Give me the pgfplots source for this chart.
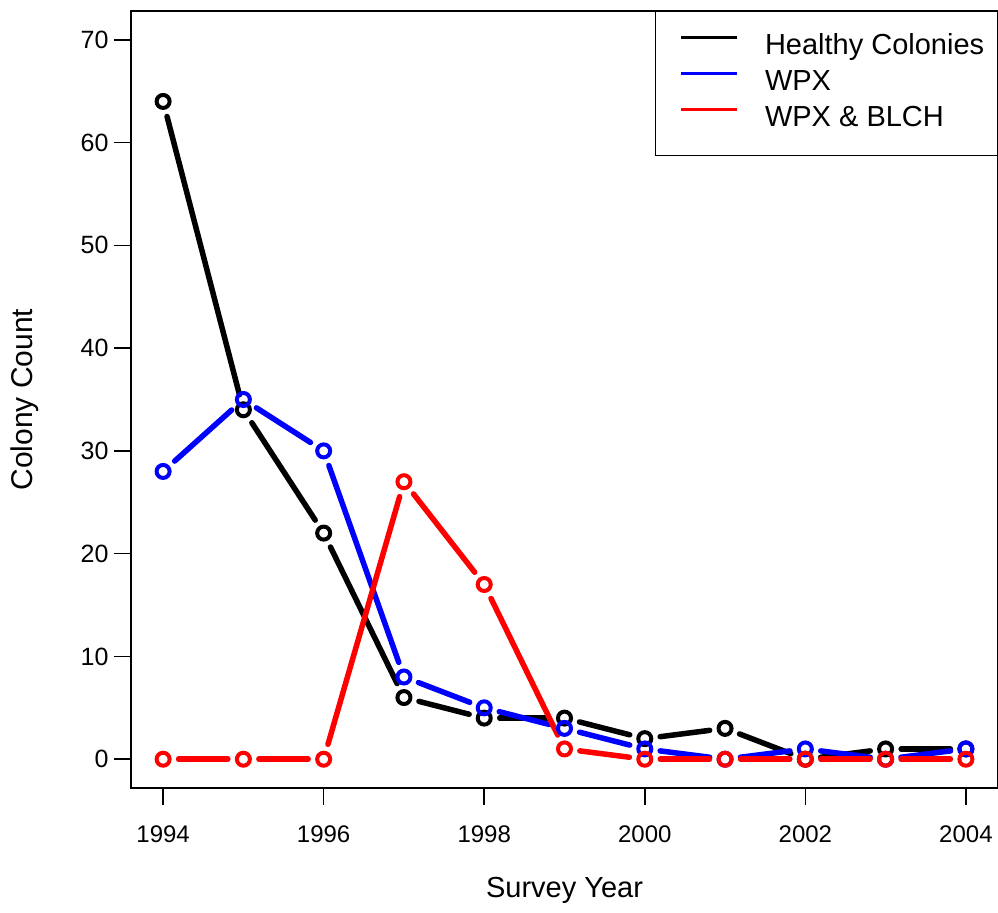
\documentclass[border=0pt]{standalone}
\usepackage{fontspec}
\setmainfont{Liberation Sans}
\usepackage{pgfplots}
\pgfplotsset{compat=1.18}
\usetikzlibrary{calc,decorations.pathmorphing}

% type "b" look: each segment stops short of the points it joins
\pgfplotsset{
  seg/.style={line width=5.5pt, line cap=round, forget plot, mark=none,
    decorate, decoration={lineto, pre=moveto, pre length=15.5pt,
      post=moveto, post length=15.5pt}},
  pts/.style={only marks, mark=o, mark size=6.5pt, mark options={line width=4pt}, forget plot},
}

\begin{document}
\begin{tikzpicture}
\begin{axis}[
  name=ax,
  scale only axis,
  width=867pt, height=777pt,
  xmin=1993.6, xmax=2004.4,
  ymin=-2.8, ymax=72.8,
  xtick={1994,1996,...,2004},
  ytick={0,10,...,70},
  xtick pos=bottom, ytick pos=left,
  tick align=outside,
  major tick length=17pt,
  tick style={line width=1.5pt, black},
  axis line style={line width=1.5pt},
  /pgf/number format/assume math mode=true,
  /pgf/number format/1000 sep={},
  xticklabel style={font=\fontsize{24}{28}\selectfont, anchor=base, yshift=-38pt},
  yticklabel style={font=\fontsize{25}{29}\selectfont, anchor=east, xshift=-2pt},
  every axis x label/.style={at={(rel axis cs:0.5,0)}, yshift=-110pt, anchor=base,
    font=\fontsize{29}{34}\selectfont},
  every axis y label/.style={at={(rel axis cs:0,0.5)}, xshift=-106pt, rotate=90,
    anchor=center, font=\fontsize{30}{35}\selectfont},
  xlabel={Survey Year},
  ylabel={Colony Count},
  legend style={at={(1,1)}, anchor=north east, draw=black, line width=1.5pt,
    inner xsep=13pt, inner ysep=21pt, row sep=6pt, column sep=0pt,
    font=\fontsize{29}{34}\selectfont,
    nodes={inner sep=0pt, text height=22pt, text depth=8pt}},
  legend cell align=left,
  legend image code/.code={\path (0pt,0pt); \draw[line width=3.5pt] (12pt,10pt) -- (68pt,10pt); \path (95pt,0pt);},
]
\addlegendimage{black}
\addlegendentry{Healthy Colonies}
\addlegendimage{blue}
\addlegendentry{WPX}
\addlegendimage{red}
\addlegendentry{WPX \& BLCH}

% Healthy colonies
\addplot[seg, black] coordinates {(1994,64) (1995,34)};
\addplot[seg, black] coordinates {(1995,34) (1996,22)};
\addplot[seg, black] coordinates {(1996,22) (1997,6)};
\addplot[seg, black] coordinates {(1997,6) (1998,4)};
\addplot[seg, black] coordinates {(1998,4) (1999,4)};
\addplot[seg, black] coordinates {(1999,4) (2000,2)};
\addplot[seg, black] coordinates {(2000,2) (2001,3)};
\addplot[seg, black] coordinates {(2001,3) (2002,0)};
\addplot[seg, black] coordinates {(2002,0) (2003,1)};
\addplot[seg, black] coordinates {(2003,1) (2004,1)};
\addplot[pts, black] coordinates {(1994,64) (1995,34) (1996,22) (1997,6) (1998,4)
  (1999,4) (2000,2) (2001,3) (2002,0) (2003,1) (2004,1)};

% WPX
\addplot[seg, blue] coordinates {(1994,28) (1995,35)};
\addplot[seg, blue] coordinates {(1995,35) (1996,30)};
\addplot[seg, blue] coordinates {(1996,30) (1997,8)};
\addplot[seg, blue] coordinates {(1997,8) (1998,5)};
\addplot[seg, blue] coordinates {(1998,5) (1999,3)};
\addplot[seg, blue] coordinates {(1999,3) (2000,1)};
\addplot[seg, blue] coordinates {(2000,1) (2001,0)};
\addplot[seg, blue] coordinates {(2001,0) (2002,1)};
\addplot[seg, blue] coordinates {(2002,1) (2003,0)};
\addplot[seg, blue] coordinates {(2003,0) (2004,1)};
\addplot[pts, blue] coordinates {(1994,28) (1995,35) (1996,30) (1997,8) (1998,5)
  (1999,3) (2000,1) (2001,0) (2002,1) (2003,0) (2004,1)};

% WPX & BLCH
\addplot[seg, red] coordinates {(1994,0) (1995,0)};
\addplot[seg, red] coordinates {(1995,0) (1996,0)};
\addplot[seg, red] coordinates {(1996,0) (1997,27)};
\addplot[seg, red] coordinates {(1997,27) (1998,17)};
\addplot[seg, red] coordinates {(1998,17) (1999,1)};
\addplot[seg, red] coordinates {(1999,1) (2000,0)};
\addplot[seg, red] coordinates {(2000,0) (2001,0)};
\addplot[seg, red] coordinates {(2001,0) (2002,0)};
\addplot[seg, red] coordinates {(2002,0) (2003,0)};
\addplot[seg, red] coordinates {(2003,0) (2004,0)};
\addplot[pts, red] coordinates {(1994,0) (1995,0) (1996,0) (1997,27) (1998,17)
  (1999,1) (2000,0) (2001,0) (2002,0) (2003,0) (2004,0)};
\end{axis}
\pgfresetboundingbox
\path[use as bounding box] ($(ax.south west)+(-131pt,-125pt)$) rectangle ($(ax.north east)+(0pt,11pt)$);
\end{tikzpicture}
\end{document}
